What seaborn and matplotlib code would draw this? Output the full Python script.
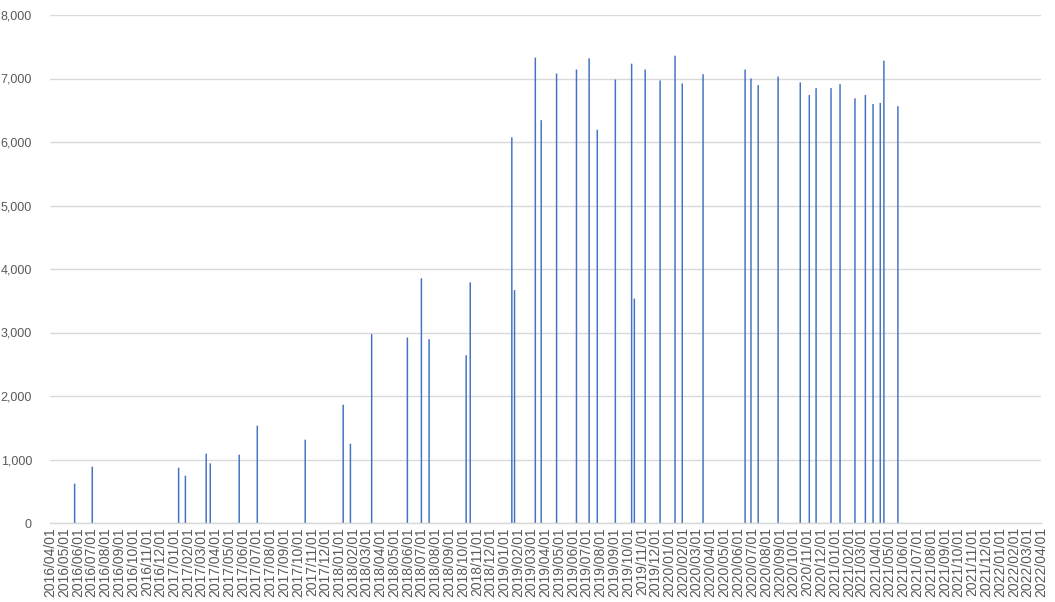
import pandas as pd
import matplotlib
matplotlib.use("Agg")
import matplotlib.pyplot as plt
import matplotlib.dates as mdates
import seaborn as sns

# dates and values
dates = [
    "2016-05-25", "2016-07-03", "2017-01-10", "2017-01-25", "2017-03-12", "2017-03-21",
    "2017-05-24", "2017-07-03", "2017-10-17", "2018-01-09", "2018-01-25", "2018-03-13",
    "2018-05-31", "2018-07-01", "2018-07-18", "2018-10-08", "2018-10-17", "2019-01-17",
    "2019-01-23", "2019-03-10", "2019-03-23", "2019-04-26", "2019-06-09", "2019-07-07",
    "2019-07-25", "2019-09-03", "2019-10-09", "2019-10-15", "2019-11-08", "2019-12-11",
    "2020-01-13", "2020-01-29", "2020-03-15", "2020-06-16", "2020-06-29", "2020-07-15",
    "2020-08-28", "2020-10-16", "2020-11-05", "2020-11-20", "2020-12-23", "2021-01-12",
    "2021-02-14", "2021-03-09", "2021-03-26", "2021-04-11", "2021-04-19", "2021-05-20",
]
values = [
    620, 887, 870, 745, 1091, 939,
    1076, 1532, 1312, 1863, 1249, 2974,
    2921, 3853, 2895, 2642, 3789, 6073,
    3668, 7328, 6344, 7078, 7141, 7318,
    6193, 6984, 7234, 3534, 7141, 6969,
    7359, 6922, 7068, 7141, 7000, 6896,
    7031, 6938, 6740, 6849, 6849, 6911,
    6688, 6740, 6599, 6615, 7281, 6563,
]
axis_start = "2016-04-01"
axis_end = "2022-04-01"

df = pd.DataFrame({"date": pd.to_datetime(dates), "value": values})
df["x"] = mdates.date2num(df["date"])

sns.set_style("white")
plt.rcParams["font.family"] = ["Liberation Sans", "DejaVu Sans"]

bar_color = "#4472C4"

fig = plt.figure(figsize=(10.55, 6.02), dpi=100)
ax = fig.add_axes([50 / 1055, 79 / 602, 991 / 1055, 508 / 602])

# thin bars, ~1.5 px wide (axis ~0.452 px per day, closest dates 6 days apart)
sns.barplot(data=df, x="x", y="value", native_scale=True, width=0.55,
            color=bar_color, saturation=1, errorbar=None, linewidth=0, ax=ax)
for p in ax.patches:
    p.set_snap(False)

ticks = pd.date_range(axis_start, axis_end, freq="MS")
ax.set_xticks(mdates.date2num(ticks))
ax.set_xticklabels([t.strftime("%Y/%m/%d") for t in ticks], rotation=90)
ax.set_xlim(mdates.date2num(pd.Timestamp(axis_start)) - 0.5,
            mdates.date2num(pd.Timestamp(axis_end)) + 0.5)

ax.set_ylim(0, 8000)
ax.set_yticks(range(0, 8001, 1000))
ax.set_yticklabels([f"{v:,}" for v in range(0, 8001, 1000)])
ax.yaxis.grid(True, color="#d9d9d9", linewidth=1)
ax.xaxis.grid(False)
ax.set_axisbelow(True)

for s in ["top", "right", "left"]:
    ax.spines[s].set_visible(False)
ax.spines["bottom"].set_color("#d9d9d9")
ax.spines["bottom"].set_linewidth(1)

ax.tick_params(axis="y", length=0, pad=13, labelsize=9, labelcolor="#595959")
ax.tick_params(axis="x", length=0, pad=3, labelsize=10, labelcolor="#595959")
ax.set_xlabel("")
ax.set_ylabel("")

fig.savefig("out.png", dpi=100)
